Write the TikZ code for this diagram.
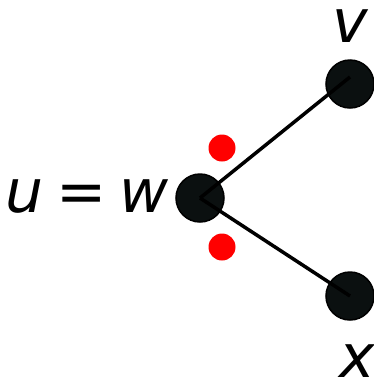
\documentclass[tikz,border=0pt]{standalone}
\usepackage{fontspec}
\setmainfont{DejaVu Sans}
\usepackage{xcolor}
\usetikzlibrary{positioning}
\definecolor{nodeblack}{HTML}{0B1010}
\definecolor{dotred}{HTML}{FF0000}
\tikzset{
  vertex/.style={circle, draw=black, line width=1.5bp, fill=nodeblack, minimum size=48bp, inner sep=0pt},
  reddot/.style={circle, fill=dotred, minimum size=27bp, inner sep=0pt},
  lbl/.style={font=\fontsize{60bp}{64bp}\selectfont\itshape, inner sep=0pt},
  edge/.style={line width=3.5bp, black}
}
\begin{document}
\begin{tikzpicture}[x=1bp, y=-1bp]
        \useasboundingbox (0,0) rectangle (374,379);
        \node[vertex] (w) at (200,198) {};
        \node[vertex] (v) at (350,84) {};
        \node[vertex] (x) at (350,296) {};
        \node[reddot] (d1) at (222,148) {};
        \node[reddot] (d2) at (222,247) {};
        \draw[edge] (w.center) -- ([yshift=7bp]v.center);
        \draw[edge] (w.center) -- (x.center);
        \node[lbl, anchor=base east] (uw) at (169,212) {u\hspace{13bp}{\upshape=}\hspace{13bp}w};
        \node[lbl, anchor=base] (vl) at (350,42) {v};
        \node[lbl, anchor=base] (xl) at (357,377) {x};
      \end{tikzpicture}
\end{document}
